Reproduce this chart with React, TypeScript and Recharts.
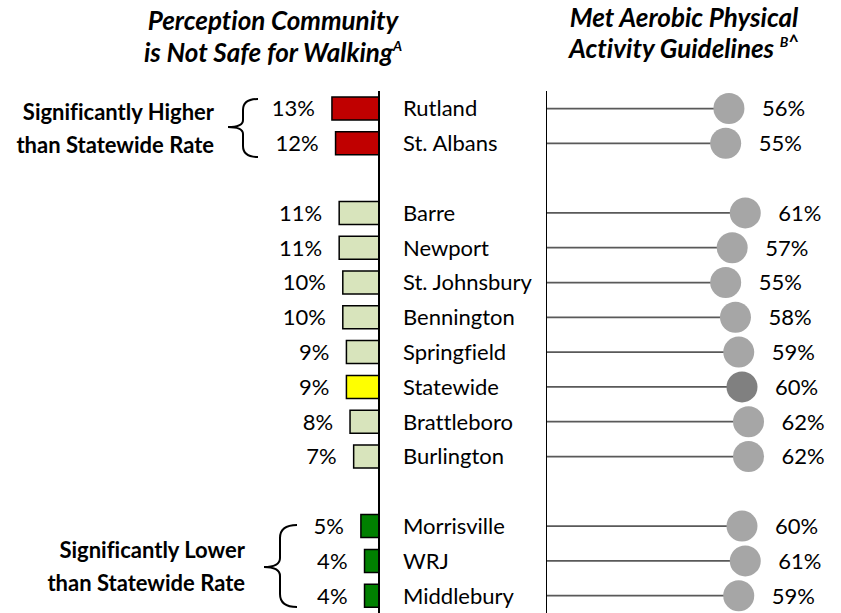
import React from 'react';
import { BarChart, Bar, XAxis, YAxis, LabelList, Cell, ReferenceLine } from 'recharts';

const categories = [
  'Rutland', 'St. Albans', 'gap1', 'Barre', 'Newport', 'St. Johnsbury', 'Bennington',
  'Springfield', 'Statewide', 'Brattleboro', 'Burlington', 'gap2', 'Morrisville', 'WRJ', 'Middlebury',
];
const notSafeWalking = [13, 12, null, 11, 11, 10, 10, 9, 9, 8, 7, null, 5, 4, 4];
const metAerobic = [56, 55, null, 61, 57, 55, 58, 59, 60, 62, 62, null, 60, 61, 59];
const significance = [
  'higher', 'higher', null, 'same', 'same', 'same', 'same', 'same', 'state', 'same', 'same', null, 'lower', 'lower', 'lower',
];

const barColors: Record<string, string> = {
  higher: '#C00000',
  same: '#D8E4BC',
  state: '#FFFF00',
  lower: '#008000',
};

const data = categories.map((name, i) => ({
  name,
  walk: notSafeWalking[i],
  aerobic: metAerobic[i],
  sig: significance[i],
}));

const FONT = 'Lato, "Open Sans", sans-serif';
const FS = 22;

const CategoryTick = (props: any) => {
  const { x, y, payload } = props;
  if (String(payload.value).startsWith('gap')) return null;
  return (
    <text x={x} y={y} dy="0.36em" textAnchor="start" fontFamily={FONT} fontSize={FS} fill="#000">
      {payload.value}
    </text>
  );
};

const WalkLabel = (props: any) => {
  const { x, y, width, height, value } = props;
  if (value == null) return null;
  const left = Math.min(x, x + width);
  return (
    <text x={left - 17} y={y + height / 2} dy="0.36em" textAnchor="end" fontFamily={FONT} fontSize={FS} fill="#000">
      {value}%
    </text>
  );
};

const Lollipop = (props: any) => {
  const { x, y, width, height, payload } = props;
  if (payload == null || payload.aerobic == null) return null;
  const cy = y + height / 2;
  const end = x + width;
  return (
    <g>
      <line x1={x} x2={end} y1={cy} y2={cy} stroke="#595959" strokeWidth={1.75} />
      <circle cx={end} cy={cy} r={15.5} fill={payload.sig === 'state' ? '#808080' : '#A6A6A6'} />
    </g>
  );
};

const AerobicLabel = (props: any) => {
  const { x, y, width, height, value } = props;
  if (value == null) return null;
  return (
    <text x={x + width + 33} y={y + height / 2} dy="0.36em" textAnchor="start" fontFamily={FONT} fontSize={FS} fill="#000">
      {value}%
    </text>
  );
};

export default function App() {
  return (
    <div
      style={{
        position: 'absolute', left: 0, top: 0, width: 841, height: 613, overflow: 'hidden',
        background: '#fff', fontVariantLigatures: 'none',
      }}
    >
      <div style={{ position: 'absolute', left: 0, top: 0 }}>
        <BarChart width={546} height={613} data={data} layout="vertical" margin={{ top: 91, right: 0, bottom: 0, left: 17 }}>
          <XAxis type="number" domain={[0, 100]} reversed hide />
          <YAxis
            type="category"
            dataKey="name"
            orientation="right"
            width={167}
            tickLine={false}
            tickSize={0}
            tickMargin={24}
            axisLine={{ stroke: '#000', strokeWidth: 2 }}
            tick={<CategoryTick />}
            interval={0}
          />
          <Bar dataKey="walk" barSize={23} stroke="#000" strokeWidth={1.5} isAnimationActive={false}>
            {data.map((d, i) => (
              <Cell key={i} fill={d.sig ? barColors[d.sig] : 'none'} />
            ))}
            <LabelList dataKey="walk" content={<WalkLabel />} />
          </Bar>
        </BarChart>
      </div>
      <div style={{ position: 'absolute', left: 546, top: 0 }}>
        <BarChart width={295} height={613} data={data} layout="vertical" margin={{ top: 91, right: 1, bottom: 0, left: 0 }}>
          <XAxis type="number" domain={[0, 90]} hide />
          <YAxis type="category" dataKey="name" hide />
          <ReferenceLine x={0} stroke="#000" strokeWidth={2} />
          <Bar dataKey="aerobic" barSize={23} shape={<Lollipop />} isAnimationActive={false}>
            <LabelList dataKey="aerobic" content={<AerobicLabel />} />
          </Bar>
        </BarChart>
      </div>
      <svg width={841} height={613} style={{ position: 'absolute', left: 0, top: 0, pointerEvents: 'none' }}>
        <g fontFamily={FONT} fontWeight="bold" fontStyle="italic" fontSize={26} textAnchor="middle">
          <text x={273} y={30}>Perception Community</text>
          <text x={273} y={62}>
            is Not Safe for Walking<tspan fontSize={14} dy={-11}>A</tspan>
          </text>
          <text x={684} y={27}>Met Aerobic Physical</text>
          <text x={684} y={58}>
            Activity Guidelines <tspan fontSize={14} dy={-11}>B</tspan>
            <tspan fontStyle="normal" fontSize={18} dy={2}>^</tspan>
          </text>
        </g>
        <g fontFamily={FONT} fontWeight="bold" fontSize={22} textAnchor="end">
          <text x={214} y={120}>Significantly Higher</text>
          <text x={214} y={153}>than Statewide Rate</text>
          <text x={245} y={558}>Significantly Lower</text>
          <text x={245} y={591}>than Statewide Rate</text>
        </g>
        <g fill="none" stroke="#000" strokeWidth={2}>
          <path d="M 258 99 Q 243 99 243 110 L 243 120 Q 243 127 228 127 Q 243 127 243 134 L 243 146 Q 243 157 258 157" />
          <path d="M 297 525 Q 280 525 280 538 L 280 558 Q 280 567 264 567 Q 280 567 280 576 L 280 594 Q 280 607 297 607" />
        </g>
      </svg>
    </div>
  );
}
